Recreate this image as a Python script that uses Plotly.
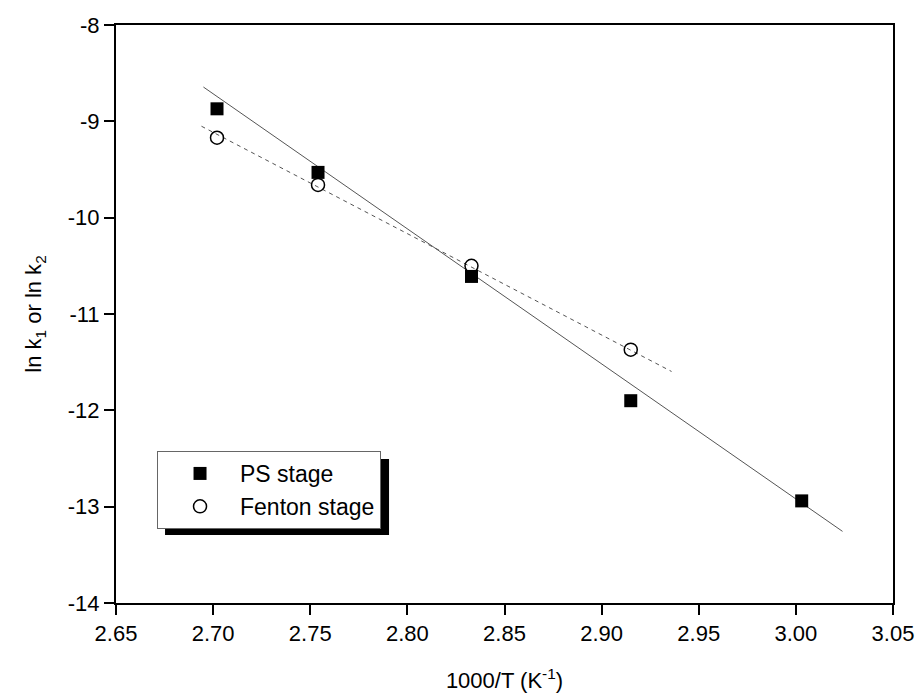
import numpy as np
import plotly.graph_objects as go

# Arrhenius data: 1000/T (K^-1) vs ln k
inv_T_ps = [2.702, 2.754, 2.833, 2.915, 3.003]
ln_k_ps = [-8.87, -9.53, -10.61, -11.90, -12.94]

inv_T_fenton = [2.702, 2.754, 2.833, 2.915]
ln_k_fenton = [-9.17, -9.66, -10.50, -11.37]

# linear fit parameters (ln k = a + b * 1000/T) and the span each fit is drawn over
fit_ps = {"a": 29.14, "b": -14.02, "x_range": [2.695, 3.024]}
fit_fenton = {"a": 19.29, "b": -10.52, "x_range": [2.694, 2.936]}

x_ticks = [2.65, 2.70, 2.75, 2.80, 2.85, 2.90, 2.95, 3.00, 3.05]
y_ticks = [-14, -13, -12, -11, -10, -9, -8]

FONT = "Liberation Sans, Arial, sans-serif"


def fit_line(p):
    xs = np.array(p["x_range"])
    return xs, p["a"] + p["b"] * xs


fig = go.Figure()

xs, ys = fit_line(fit_ps)
fig.add_trace(go.Scatter(x=xs, y=ys, mode="lines", showlegend=False,
                         line=dict(color="#555555", width=1)))
xs, ys = fit_line(fit_fenton)
fig.add_trace(go.Scatter(x=xs, y=ys, mode="lines", showlegend=False,
                         line=dict(color="#555555", width=1, dash="4px,4px")))

fig.add_trace(go.Scatter(x=inv_T_ps, y=ln_k_ps, mode="markers", name="PS stage",
                         legendgroup="ps",
                         marker=dict(symbol="square", size=13, color="black",
                                     line=dict(width=0))))
fig.add_trace(go.Scatter(x=inv_T_fenton, y=ln_k_fenton, mode="markers",
                         name="Fenton stage", legendgroup="fenton",
                         marker=dict(symbol="circle-open", size=13, color="black",
                                     line=dict(width=1.5, color="black"))))

axis_common = dict(
    showgrid=False, zeroline=False, showline=True, linecolor="black", linewidth=2,
    mirror=True, ticks="outside", ticklen=10, tickwidth=2, tickcolor="black",
    tickfont=dict(family=FONT, size=22, color="black"), automargin=False,
)

fig.update_xaxes(range=[2.65, 3.05], tickvals=x_ticks,
                 ticktext=[f"{v:.2f}" for v in x_ticks],
                 title=dict(text="1000/T (K<sup>-1</sup>)",
                            font=dict(family=FONT, size=22, color="black"),
                            standoff=27),
                 **axis_common)
fig.update_yaxes(range=[-14, -8], tickvals=y_ticks,
                 ticktext=[str(v) for v in y_ticks],
                 title=dict(text="ln k<sub>1</sub> or ln k<sub>2</sub>",
                            font=dict(family=FONT, size=22, color="black"),
                            standoff=20),
                 **axis_common)

# legend box sits at the lower left with a solid drop shadow behind it
leg_x0, leg_y1 = 0.0528, 0.263
fig.update_layout(
    width=919, height=696,
    margin=dict(l=116, r=26, t=25, b=93),
    plot_bgcolor="white", paper_bgcolor="white",
    legend=dict(x=leg_x0, y=leg_y1, xanchor="left", yanchor="top",
                bgcolor="white", bordercolor="#666666", borderwidth=1,
                font=dict(family=FONT, size=23, color="black"),
                tracegroupgap=0, traceorder="grouped", indentation=2,
                itemwidth=70),
    shapes=[dict(type="rect", xref="paper", yref="paper", layer="above",
                 x0=0.0631, x1=0.3514, y0=0.1176, y1=0.249,
                 fillcolor="black", line=dict(width=0))],
)

fig.write_html("out.html")
